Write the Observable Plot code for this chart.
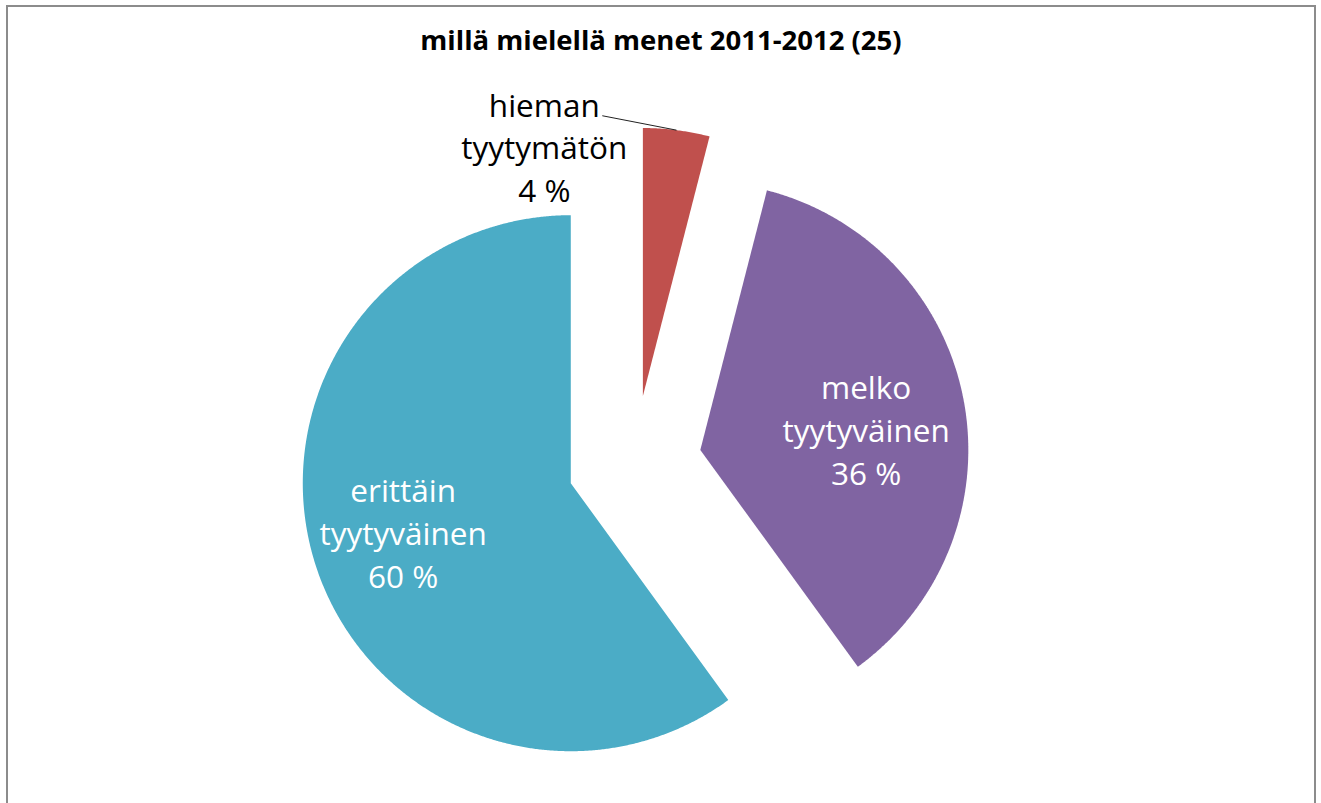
<!DOCTYPE html>
<html>
<head>
<meta charset="utf-8">
<script src="https://cdn.jsdelivr.net/npm/d3@7"></script>
<script src="https://cdn.jsdelivr.net/npm/@observablehq/plot@0.6"></script>
<style>
  html, body { margin: 0; padding: 0; background: #fff; }
  #wrap { position: relative; width: 1321px; height: 803px; overflow: hidden; }
  #border { position: absolute; left: 6px; top: 5px; width: 1310px; height: 820px; border: 2px solid #8c8c8c; box-sizing: border-box; }
  #chart { position: absolute; left: 0; top: 0; }
</style>
</head>
<body>
<div id="wrap"><div id="border"></div><div id="chart"></div></div>
<script>
// ---- data ----
const title = "millä mielellä menet 2011-2012 (25)";
const categories = ["hieman tyytymätön", "melko tyytyväinen", "erittäin tyytyväinen"];
const labelNames = ["hieman\ntyytymätön", "melko\ntyytyväinen", "erittäin\ntyytyväinen"];
const values = [4, 36, 60];
const colors = ["#C0504D", "#8064A2", "#4BACC6"];

// ---- layout ----
const W = 1321, H = 803;
const cx = 634, cy = 462, R = 268, explode = 67;
const font = "'Open Sans', Lato, sans-serif";

const arcs = d3.pie().sort(null).value(d => d)(values);
const polys = [];
const labels = [];
let leader = null;
arcs.forEach((a, i) => {
  const mid = (a.startAngle + a.endAngle) / 2;
  const ox = cx + explode * Math.sin(mid), oy = cy - explode * Math.cos(mid);
  const cat = categories[i];
  polys.push({cat, x: ox, y: oy});
  const n = Math.max(4, Math.ceil((a.endAngle - a.startAngle) / 0.005));
  for (let k = 0; k <= n; k++) {
    const t = a.startAngle + (a.endAngle - a.startAngle) * k / n;
    polys.push({cat, x: ox + R * Math.sin(t), y: oy - R * Math.cos(t)});
  }
  polys.push({cat, x: ox, y: oy});
  const text = labelNames[i] + "\n" + values[i] + " %";
  if (values[i] < 10) {
    // outside label with leader line
    const la = -21.5 * Math.PI / 180, lr = 269;
    const lx = ox + lr * Math.sin(la), ly = oy - lr * Math.cos(la);
    labels.push({x: lx, y: ly, text, inside: false});
    leader = {x1: lx + 58, y1: ly - 30, x2: ox + R * Math.sin(mid), y2: oy - R * Math.cos(mid)};
  } else {
    const k = 0.63;
    const lx = ox + k * R * Math.sin(mid), ly = oy - k * R * Math.cos(mid);
    // nudge labels like Excel's best fit placement
    labels.push({x: lx + (lx < cx ? -7 : 0), y: ly + (ly > cy ? -4 : 10), text, inside: true});
  }
});

const chart = Plot.plot({
  width: W, height: H,
  margin: 0,
  x: {domain: [0, W], range: [0, W], axis: null},
  y: {domain: [0, H], range: [0, H], axis: null},
  color: {domain: categories, range: colors},
  style: {fontFamily: font, background: "transparent"},
  marks: [
    Plot.line(polys, {x: "x", y: "y", z: "cat", fill: "cat", stroke: "none", curve: "linear"}),
    Plot.link([leader], {x1: "x1", y1: "y1", x2: "x2", y2: "y2", stroke: "#222", strokeWidth: 1}),
    Plot.text(labels.filter(d => d.inside), {x: "x", y: "y", text: "text", fill: "white", fontSize: 31.5, lineHeight: 1.36, fontFamily: font}),
    Plot.text(labels.filter(d => !d.inside), {x: "x", y: "y", text: "text", fill: "#000", fontSize: 31.5, lineHeight: 1.36, fontFamily: font}),
    Plot.text([title], {frameAnchor: "top", dy: 30, text: d => d, fontSize: 27.5, fontWeight: "bold", fill: "#000", fontFamily: font})
  ]
});
document.getElementById("chart").appendChild(chart);
</script>
</body>
</html>
